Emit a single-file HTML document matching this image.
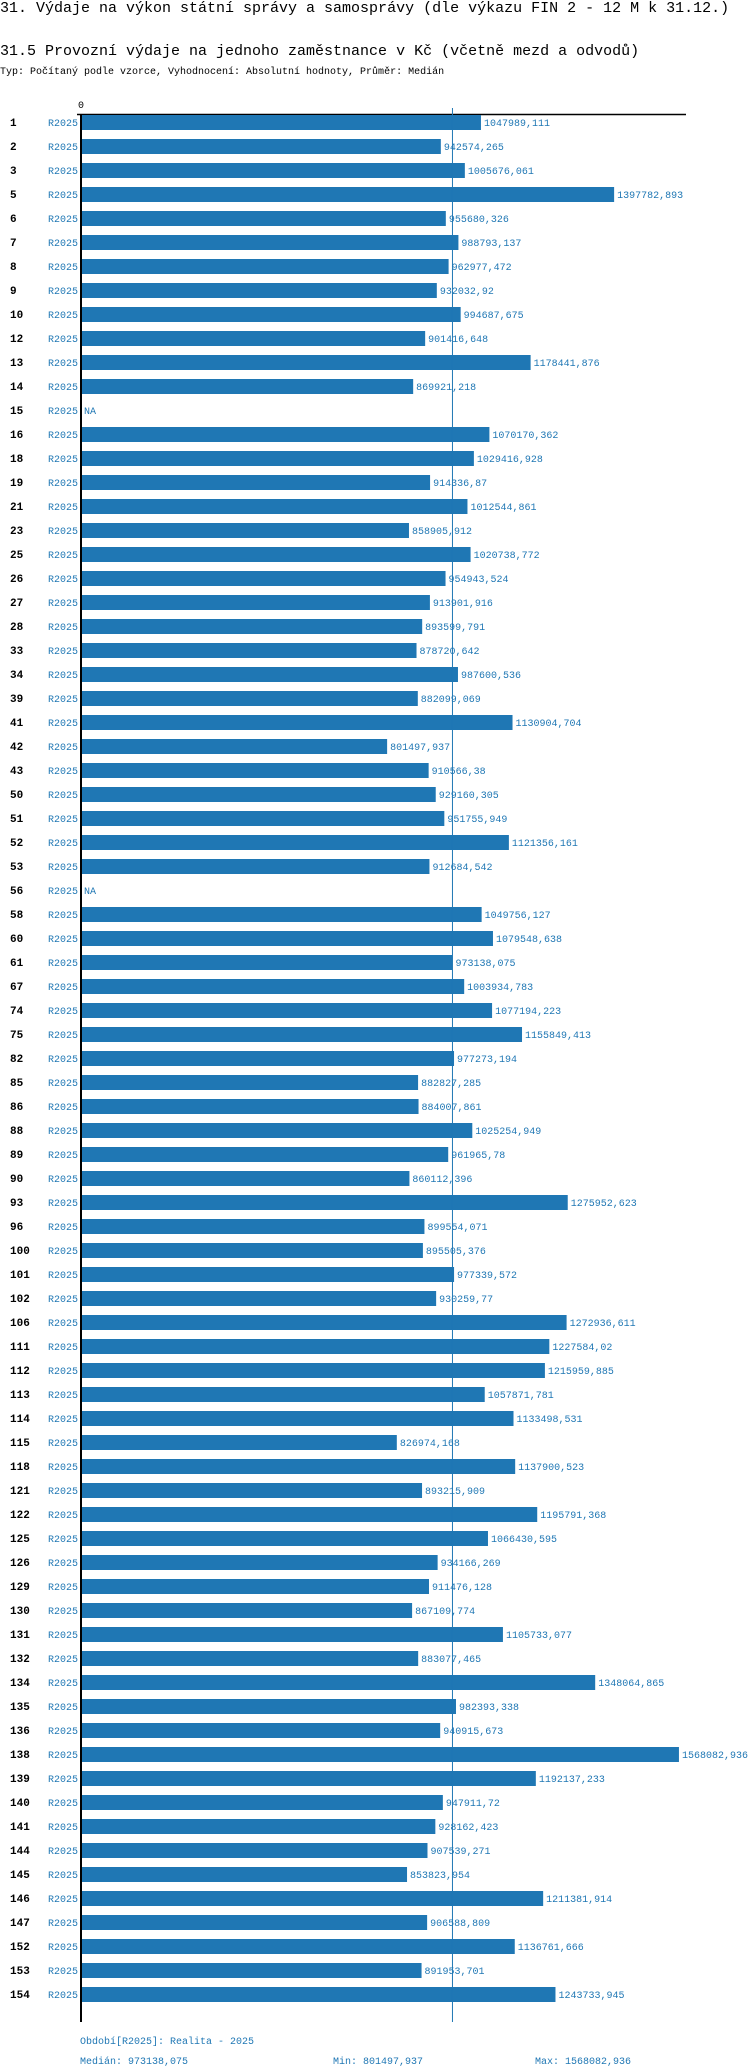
<!DOCTYPE html>
<html><head><meta charset="utf-8">
<style>
html,body{margin:0;padding:0;background:#fff;}
body{width:750px;height:2070px;overflow:hidden;position:relative;font-family:"Liberation Mono",monospace;}
.t{position:absolute;left:0;white-space:nowrap;color:#000;}
svg{position:absolute;left:0;top:0;}
</style></head>
<body>
<div class="t" style="top:0px;font-size:15px;line-height:17px;">31. Výdaje na výkon státní správy a samosprávy (dle výkazu FIN 2 - 12 M k 31.12.)</div>
<div class="t" style="top:43px;font-size:15px;line-height:17px;">31.5 Provozní výdaje na jednoho zaměstnance v Kč (včetně mezd a odvodů)</div>
<div class="t" style="top:66px;font-size:10px;line-height:13px;">Typ: Počítaný podle vzorce, Vyhodnocení: Absolutní hodnoty, Průměr: Medián</div>
<svg id="chart" width="750" height="2070" xmlns="http://www.w3.org/2000/svg"></svg>
<script>
const categories = ["1","2","3","5","6","7","8","9","10","12","13","14","15","16","18","19","21","23","25","26","27","28","33","34","39","41","42","43","50","51","52","53","56","58","60","61","67","74","75","82","85","86","88","89","90","93","96","100","101","102","106","111","112","113","114","115","118","121","122","125","126","129","130","131","132","134","135","136","138","139","140","141","144","145","146","147","152","153","154"];
const values = [1047989.111,942574.265,1005676.061,1397782.893,955680.326,988793.137,962977.472,932032.92,994687.675,901416.648,1178441.876,869921.218,null,1070170.362,1029416.928,914336.87,1012544.861,858905.912,1020738.772,954943.524,913901.916,893599.791,878720.642,987600.536,882099.069,1130904.704,801497.937,910566.38,929160.305,951755.949,1121356.161,912684.542,null,1049756.127,1079548.638,973138.075,1003934.783,1077194.223,1155849.413,977273.194,882827.285,884007.861,1025254.949,961965.78,860112.396,1275952.623,899554.071,895505.376,977339.572,930259.77,1272936.611,1227584.02,1215959.885,1057871.781,1133498.531,826974.168,1137900.523,893215.909,1195791.368,1066430.595,934166.269,911476.128,867109.774,1105733.077,883077.465,1348064.865,982393.338,940915.673,1568082.936,1192137.233,947911.72,928162.423,907539.271,853823.954,1211381.914,906588.809,1136761.666,891953.701,1243733.945];
const periodLabel = "R2025";
const axisMax = 1600000;

const NS="http://www.w3.org/2000/svg";
const svg=document.getElementById('chart');
const x0=82, plotW=609.1, top0=115, pitch=24, barH=15;
const xScale=v=>x0+v/axisMax*plotW;
const yRow=i=>top0+i*pitch;
const fmt=v=>String(v).replace('.',',');
function mk(tag,attrs,txt){const e=document.createElementNS(NS,tag);for(const k in attrs)e.setAttribute(k,attrs[k]);if(txt!==undefined)e.textContent=txt;svg.appendChild(e);return e;}
const BLUE="#1f77b4";
const nums=values.filter(v=>v!==null).sort((a,b)=>a-b);
const n=nums.length;
const median=n%2?nums[(n-1)/2]:(nums[n/2-1]+nums[n/2])/2;
const minV=nums[0], maxV=nums[n-1];
const bottom=yRow(categories.length)+1;

let e;
e=mk('text',{x:81,y:108,'font-size':10,'text-anchor':'middle','font-family':'Liberation Mono, monospace'},'0');


e=mk('line',{x1:77,y1:114.5,x2:686,y2:114.5,stroke:'#000','stroke-width':1.5});



categories.forEach((c,i)=>{
  const y=yRow(i), cy=y+barH/2+3.5;
  let t=mk('text',{x:10,y:cy,'font-size':11,'font-weight':'bold','font-family':'Liberation Mono, monospace',fill:'#000'},c);
  
  
  t=mk('text',{x:78,y:cy,'font-size':10,'text-anchor':'end','font-family':'Liberation Mono, monospace',fill:BLUE},periodLabel);
  
  
  const v=values[i];
  if(v===null){
    t=mk('text',{x:84,y:cy,'font-size':10,'font-family':'Liberation Mono, monospace',fill:BLUE},'NA');
    
    
  } else {
    const b=mk('rect',{x:x0,y:y,width:xScale(v)-x0,height:barH,fill:BLUE});
    
    
    t=mk('text',{x:xScale(v)+3,y:cy,'font-size':10,'font-family':'Liberation Mono, monospace',fill:BLUE},fmt(v));
    
    
  }
});

e=mk('line',{x1:xScale(median),y1:108,x2:xScale(median),y2:bottom+10,stroke:BLUE,'stroke-width':1});


e=mk('line',{x1:81,y1:114,x2:81,y2:bottom+10,stroke:'#000','stroke-width':2});



const fy=bottom+32;
e=mk('text',{x:80,y:fy,'font-size':10,'font-family':'Liberation Mono, monospace',fill:BLUE},'Období['+periodLabel+']: Realita - 2025');


e=mk('text',{x:80,y:fy+20,'font-size':10,'font-family':'Liberation Mono, monospace',fill:BLUE},'Medián: '+fmt(median));


e=mk('text',{x:333,y:fy+20,'font-size':10,'font-family':'Liberation Mono, monospace',fill:BLUE},'Min: '+fmt(minV));


e=mk('text',{x:535,y:fy+20,'font-size':10,'font-family':'Liberation Mono, monospace',fill:BLUE},'Max: '+fmt(maxV));


</script>
</body></html>
